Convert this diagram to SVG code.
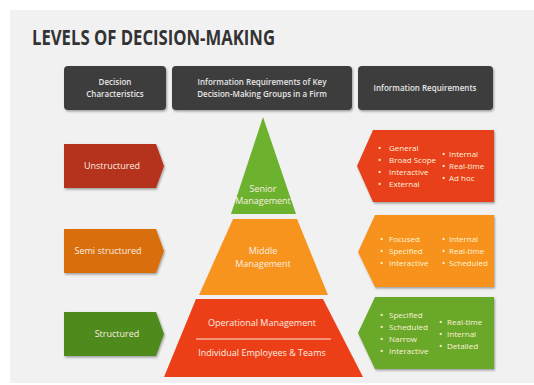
<svg xmlns="http://www.w3.org/2000/svg" width="534" height="385" viewBox="0 0 534 385">
  <defs>
    <filter id="shadow" x="-10%" y="-10%" width="125%" height="130%">
      <feDropShadow dx="1" dy="1.5" stdDeviation="1.2" flood-color="#000" flood-opacity="0.35"/>
    </filter>
  </defs>
  <style>
    text { font-family: "Open Sans", "Liberation Sans", sans-serif; }
    .title { font-size: 21px; font-weight: 700; fill: #333333; }
    .head { fill: #3d3d3d; filter: url(#shadow); }
    .headtxt { font-size: 8px; font-weight: 600; fill: #e6e6e6; text-anchor: middle; }
    .lbl { font-size: 9px; fill: #fbeee0; text-anchor: middle; }
    .item { font-size: 8px; fill: #fdf3d8; }
    .dot { font-size: 9px; fill: #fdf3d8; }
    .box { filter: url(#shadow); }
  </style>

  <!-- page background -->
  <rect x="0" y="0" width="534" height="385" fill="#ffffff"/>
  <rect x="10" y="10" width="524" height="373" fill="#f1f1f1"/>

  <text class="title" x="32" y="45" textLength="243" lengthAdjust="spacingAndGlyphs">LEVELS OF DECISION-MAKING</text>

  <!-- column headers -->
  <g id="header-characteristics">
    <rect class="head" x="64" y="66" width="102" height="44" rx="4"/>
    <text class="headtxt" x="115" y="85">Decision</text>
    <text class="headtxt" x="115" y="97">Characteristics</text>
  </g>
  <g id="header-groups">
    <rect class="head" x="172" y="66" width="180" height="44" rx="4"/>
    <text class="headtxt" x="262" y="85">Information Requirements of Key</text>
    <text class="headtxt" x="262" y="97">Decision-Making Groups in a Firm</text>
  </g>
  <g id="header-requirements">
    <rect class="head" x="358" y="66" width="135" height="44" rx="4"/>
    <text class="headtxt" x="425" y="91">Information Requirements</text>
  </g>

  <!-- decision characteristics -->
  <g id="unstructured">
    <polygon class="box" points="64,144 156,144 164,166 156,188 64,188" fill="#b5311c"/>
    <text class="lbl" x="112" y="169">Unstructured</text>
  </g>
  <g id="semi-structured">
    <polygon class="box" points="64,229 156,229 164,251 156,273 64,273" fill="#d96e0e"/>
    <text class="lbl" x="108" y="254">Semi structured</text>
  </g>
  <g id="structured">
    <polygon class="box" points="64,312 156,312 164,334 156,356 64,356" fill="#4f8a1f"/>
    <text class="lbl" x="117" y="337">Structured</text>
  </g>

  <!-- pyramid -->
  <g id="senior-management">
    <polygon points="263,117 296,214 231,214" fill="#6db22f"/>
    <text class="lbl" x="263" y="192" font-size="7.5">Senior</text>
    <text class="lbl" x="263" y="204" font-size="7.5">Management</text>
  </g>
  <g id="middle-management">
    <polygon points="233,219 297,219 328,295 199,295" fill="#f7941e"/>
    <text class="lbl" x="263" y="254">Middle</text>
    <text class="lbl" x="263" y="267">Management</text>
  </g>
  <g id="operational-management">
    <polygon points="196,299 323,299 363,377 164,377" fill="#ec3f17"/>
    <text class="lbl" x="262" y="326">Operational Management</text>
    <line x1="196" y1="339" x2="331" y2="339" stroke="#fbe6dc" stroke-width="1.2"/>
    <text class="lbl" x="262" y="356">Individual Employees &amp; Teams</text>
  </g>

  <!-- information requirements -->
  <g id="req-senior">
    <polygon class="box" points="373,130 494,130 494,202 373,202 357,166" fill="#e9411c"/>
    <text class="dot" x="378" y="151">•</text><text class="item" x="389" y="151">General</text>
    <text class="dot" x="378" y="163">•</text><text class="item" x="389" y="163">Broad Scope</text>
    <text class="dot" x="378" y="175">•</text><text class="item" x="389" y="175">Interactive</text>
    <text class="dot" x="378" y="187">•</text><text class="item" x="389" y="187">External</text>
    <text class="dot" x="442" y="157">•</text><text class="item" x="449" y="157">Internal</text>
    <text class="dot" x="442" y="169">•</text><text class="item" x="449" y="169">Real-time</text>
    <text class="dot" x="442" y="181">•</text><text class="item" x="449" y="181">Ad hoc</text>
  </g>
  <g id="req-middle">
    <polygon class="box" points="375,215 494,215 494,287 375,287 358,252" fill="#f7931f"/>
    <text class="dot" x="380" y="242">•</text><text class="item" x="389" y="242">Focused</text>
    <text class="dot" x="380" y="254">•</text><text class="item" x="389" y="254">Specified</text>
    <text class="dot" x="380" y="266">•</text><text class="item" x="389" y="266">Interactive</text>
    <text class="dot" x="442" y="242">•</text><text class="item" x="449" y="242">Internal</text>
    <text class="dot" x="442" y="254">•</text><text class="item" x="449" y="254">Real-time</text>
    <text class="dot" x="442" y="266">•</text><text class="item" x="449" y="266">Scheduled</text>
  </g>
  <g id="req-operational">
    <polygon class="box" points="375,297 494,297 494,369 375,369 358,333" fill="#6aa82a"/>
    <text class="dot" x="380" y="318">•</text><text class="item" x="389" y="318">Specified</text>
    <text class="dot" x="380" y="330">•</text><text class="item" x="389" y="330">Scheduled</text>
    <text class="dot" x="380" y="342">•</text><text class="item" x="389" y="342">Narrow</text>
    <text class="dot" x="380" y="354">•</text><text class="item" x="389" y="354">Interactive</text>
    <text class="dot" x="439" y="325">•</text><text class="item" x="447" y="325">Real-time</text>
    <text class="dot" x="439" y="337">•</text><text class="item" x="447" y="337">Internal</text>
    <text class="dot" x="439" y="349">•</text><text class="item" x="447" y="349">Detailed</text>
  </g>
</svg>
